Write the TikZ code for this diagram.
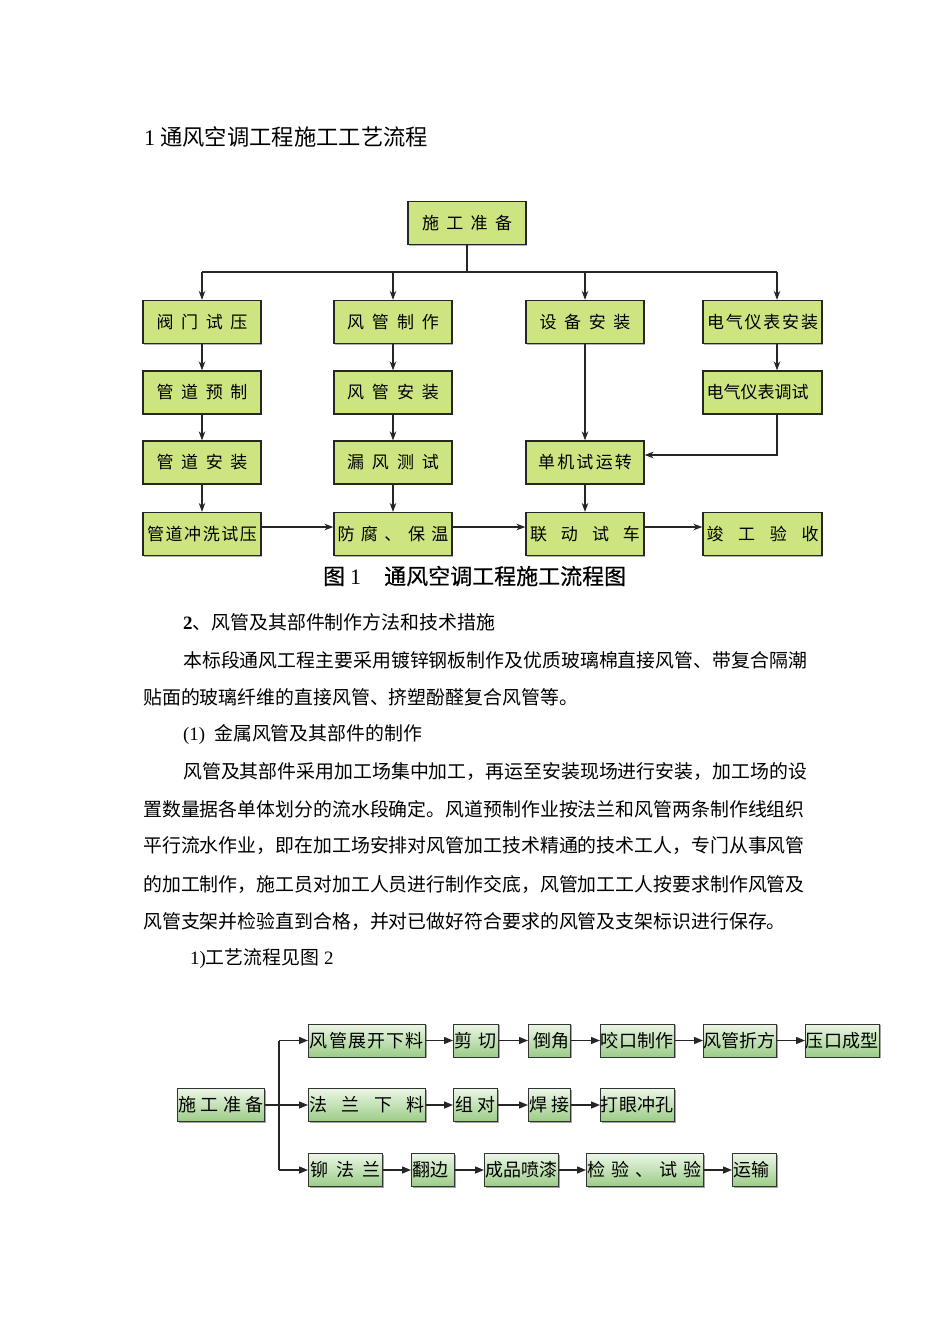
\documentclass[tikz,border=0pt]{standalone}
\usepackage{fontspec}
\setmainfont{Liberation Serif}
\newfontfamily\cjk{Noto Sans CJK SC}
\newfontfamily\cjkb[FakeBold=0.5]{Noto Sans CJK SC}
\usetikzlibrary{arrows.meta,calc,shadows}
\definecolor{topgreen}{RGB}{205,229,128}
\definecolor{gtop}{RGB}{236,246,230}
\definecolor{gbot}{RGB}{155,204,135}
\newcommand\spr[2]{\makebox[#1pt][s]{#2}}
\tikzset{
  box/.style={draw=black!85, line width=1.2pt, fill=topgreen, minimum width=118pt,
    minimum height=43pt, inner sep=0pt,
    drop shadow={shadow xshift=1pt, shadow yshift=-1pt, opacity=0.6},
    font=\cjk\fontsize{17}{20}\selectfont},
  gbox/.style={draw=black!80, line width=0.8pt, top color=gtop, bottom color=gbot,
    minimum height=33pt, inner sep=0pt, anchor=west,
    drop shadow={shadow xshift=1.2pt, shadow yshift=-1.2pt, opacity=0.7},
    font=\cjk\fontsize{18}{20}\selectfont},
  arr/.style={-{Stealth[length=9pt,width=6.5pt]}, line width=1.5pt, draw=black!85},
  ln/.style={line width=1.5pt, draw=black!85},
  barr/.style={-{Triangle[length=9pt,width=7pt]}, line width=1.4pt, draw=black!85},
  bln/.style={line width=1.4pt, draw=black!85},
  txt/.style={anchor=west, inner sep=0pt, font=\cjk\fontsize{18.9}{22}\selectfont},
}
\begin{document}
\begin{tikzpicture}[x=1pt,y=-1pt]
\useasboundingbox (0,0) rectangle (950,1344);
\fill[white] (0,0) rectangle (950,1344);

% title
\node[txt, font=\fontsize{22.3}{26}\selectfont] (title) at (144,137)
  {1\hspace{5pt}{\cjk 通风空调工程施工工艺流程}};

% ---- figure 1 ----
\node[box] (s0) at (467,223) {\spr{90}{施\hfill 工\hfill 准\hfill 备}};

\node[box] (a1) at (202,322) {\spr{91}{阀\hfill 门\hfill 试\hfill 压}};
\node[box] (b1) at (202,392.5) {\spr{91}{管\hfill 道\hfill 预\hfill 制}};
\node[box] (c1) at (202,462.5) {\spr{91}{管\hfill 道\hfill 安\hfill 装}};
\node[box] (d1) at (202,534) {\spr{110}{管\hfill 道\hfill 冲\hfill 洗\hfill 试\hfill 压}};

\node[box] (a2) at (393,322) {\spr{92}{风\hfill 管\hfill 制\hfill 作}};
\node[box] (b2) at (393,392.5) {\spr{92}{风\hfill 管\hfill 安\hfill 装}};
\node[box] (c2) at (393,462.5) {\spr{92}{漏\hfill 风\hfill 测\hfill 试}};
\node[box] (d2) at (393,534) {\spr{111}{防\hfill 腐\hfill 、\hfill 保\hfill 温}};

\node[box] (a3) at (585,322) {\spr{91}{设\hfill 备\hfill 安\hfill 装}};
\node[box] (c3) at (585,462.5) {\spr{94}{单\hfill 机\hfill 试\hfill 运\hfill 转}};
\node[box] (d3) at (585,534) {\spr{110}{联\hfill 动\hfill 试\hfill 车}};

\node[box, minimum width=119pt] (a4) at (762.5,322) {\spr{111}{电\hfill 气\hfill 仪\hfill 表\hfill 安\hfill 装}};
\node[box, minimum width=119pt] (b4) at (762.5,392.5) {\makebox[112pt][l]{电气仪表调试}};
\node[box, minimum width=119pt] (d4) at (762.5,534) {\spr{112}{竣\hfill 工\hfill 验\hfill 收}};

\coordinate (busm) at (467,272);
\coordinate (bus1) at (202,272);
\coordinate (bus2) at (393,272);
\coordinate (bus3) at (585,272);
\coordinate (bus4) at (777,272);
\coordinate (k) at (777,455);
\coordinate (hy) at (300,527);

\draw[ln] (s0.south) -- (busm);
\draw[ln] (bus1) -- (bus4);
\draw[arr] (bus1) -- (a1.north);
\draw[arr] (bus2) -- (a2.north);
\draw[arr] (bus3) -- (a3.north);
\draw[arr] (bus4) -- (a4.north -| bus4);

\draw[arr] (a1) -- (b1);
\draw[arr] (b1) -- (c1);
\draw[arr] (c1) -- (d1);
\draw[arr] (a2) -- (b2);
\draw[arr] (b2) -- (c2);
\draw[arr] (c2) -- (d2);
\draw[arr] (a3) -- (c3);
\draw[arr] (c3) -- (d3);
\draw[arr] (a4.south -| bus4) -- (b4.north -| bus4);
\draw[arr] (b4.south -| k) -- (k) -- (c3.east |- k);

\draw[arr] (d1.east |- hy) -- (d2.west |- hy);
\draw[arr] (d2.east |- hy) -- (d3.west |- hy);
\draw[arr] (d3.east |- hy) -- (d4.west |- hy);

\node[anchor=west, inner sep=0pt, font=\cjkb\fontsize{22}{26}\selectfont] (cap) at (323,576)
  {图\hspace{5pt}{\fontspec{Liberation Serif}1}\hspace{23pt}通风空调工程施工流程图};

% ---- body text ----
\node[txt] (p1) at (183,622) {{\fontspec{Liberation Serif}\bfseries 2}、风管及其部件制作方法和技术措施};
\node[txt] (p2) at (183,660) {本标段通风工程主要采用镀锌钢板制作及优质玻璃棉直接风管、带复合隔潮};
\node[txt] (p3) at (143,697) {贴面的玻璃纤维的直接风管、挤塑酚醛复合风管等。};
\node[txt] (p4) at (183,734) {{\fontspec{Liberation Serif}(1)}\hspace{9pt}金属风管及其部件的制作};
\node[txt] (p5) at (183,772) {风管及其部件采用加工场集中加工，再运至安装现场进行安装，加工场的设};
\node[txt] (p6) at (143,809) {置数量据各单体划分的流水段确定。风道预制作业按法兰和风管两条制作线组织};
\node[txt] (p7) at (143,846) {平行流水作业，即在加工场安排对风管加工技术精通的技术工人，专门从事风管};
\node[txt] (p8) at (143,884) {的加工制作，施工员对加工人员进行制作交底，风管加工工人按要求制作风管及};
\node[txt] (p9) at (143,921) {风管支架并检验直到合格，并对已做好符合要求的风管及支架标识进行保存。};
\node[txt] (p10) at (190,959) {{\fontspec{Liberation Serif}1)}工艺流程见图{\fontspec{Liberation Serif}\ 2}};

% ---- figure 2 ----
\node[gbox, minimum width=87pt] (q0) at (177,1105) {\spr{85}{施\hfill 工\hfill 准\hfill 备}};

\node[gbox, minimum width=117pt] (r11) at (308,1040.5) {\spr{114}{风\hfill 管\hfill 展\hfill 开\hfill 下\hfill 料}};
\node[gbox, minimum width=45pt] (r12) at (453,1040.5) {\spr{42}{剪\hfill 切}};
\node[gbox, minimum width=42pt] (r13) at (528,1040.5) {\makebox[40pt][r]{倒角}};
\node[gbox, minimum width=74pt] (r14) at (600,1040.5) {\spr{73}{咬\hfill 口\hfill 制\hfill 作}};
\node[gbox, minimum width=73pt] (r15) at (703,1040.5) {\spr{72}{风\hfill 管\hfill 折\hfill 方}};
\node[gbox, minimum width=74pt] (r16) at (805,1040.5) {\spr{73}{压\hfill 口\hfill 成\hfill 型}};

\node[gbox, minimum width=117pt] (r21) at (308,1105) {\spr{115}{法\hfill 兰\hfill 下\hfill 料}};
\node[gbox, minimum width=44pt] (r22) at (453,1105) {\spr{40}{组\hfill 对}\hspace{2pt}};
\node[gbox, minimum width=42pt] (r23) at (528,1105) {\spr{40}{焊\hfill 接}};
\node[gbox, minimum width=74pt] (r24) at (600,1105) {\spr{73}{打\hfill 眼\hfill 冲\hfill 孔}};

\node[gbox, minimum width=74pt] (r31) at (308,1170) {\spr{70}{铆\hfill 法\hfill 兰}\hspace{2pt}};
\node[gbox, minimum width=43pt] (r32) at (411,1170) {\makebox[40pt][l]{翻边}};
\node[gbox, minimum width=74pt] (r33) at (484,1170) {\spr{72}{成\hfill 品\hfill 喷\hfill 漆}};
\node[gbox, minimum width=117pt] (r34) at (586,1170) {\spr{114}{检\hfill 验\hfill 、\hfill 试\hfill 验}};
\node[gbox, minimum width=44pt] (r35) at (732,1170) {\makebox[41pt][l]{运输}};

\coordinate (jt) at (279,1040.5);
\coordinate (jb) at (279,1170);

\draw[bln] (jt) -- (jb);
\draw[barr] (q0.east) -- (r21.west);
\draw[barr] (jt) -- (r11.west);
\draw[barr] (jb) -- (r31.west);

\draw[barr] (r11) -- (r12);
\draw[barr] (r12) -- (r13);
\draw[barr] (r13) -- (r14);
\draw[barr] (r14) -- (r15);
\draw[barr] (r15) -- (r16);

\draw[barr] (r21) -- (r22);
\draw[barr] (r22) -- (r23);
\draw[barr] (r23) -- (r24);

\draw[barr] (r31) -- (r32);
\draw[barr] (r32) -- (r33);
\draw[barr] (r33) -- (r34);
\draw[barr] (r34) -- (r35);
\end{tikzpicture}
\end{document}
